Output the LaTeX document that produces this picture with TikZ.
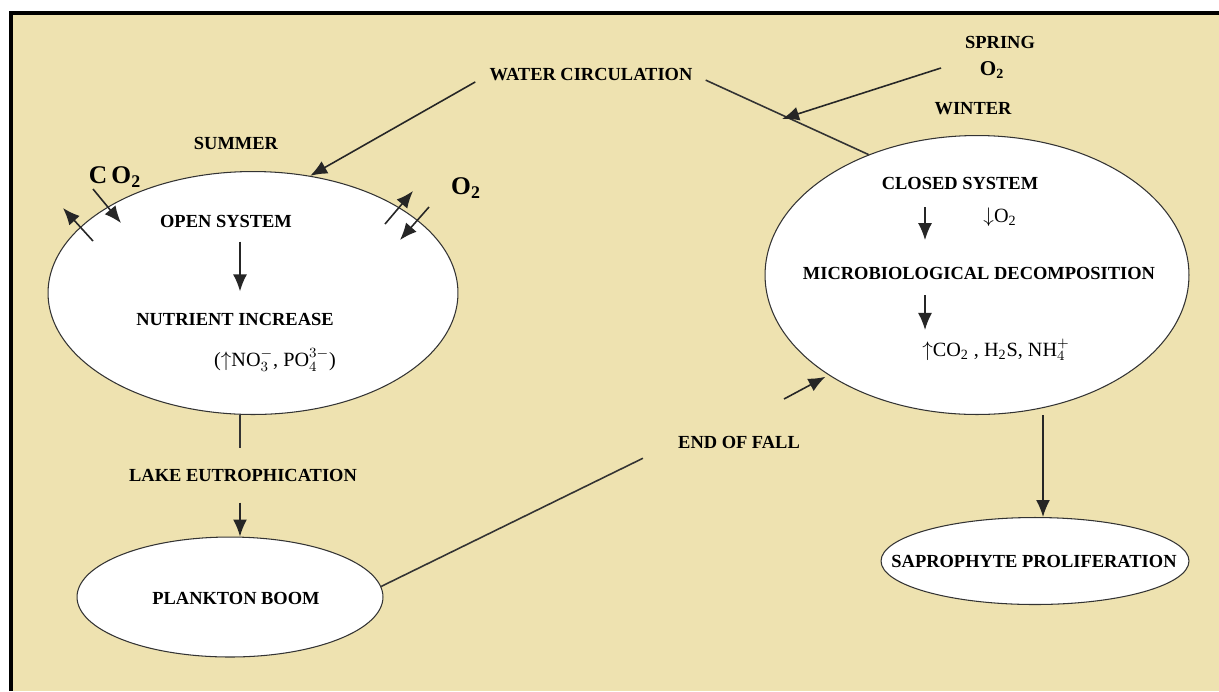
\documentclass[tikz,border=0pt]{standalone}
\usepackage{fontspec}
\setmainfont{Liberation Serif}
\usetikzlibrary{arrows.meta,shapes.geometric,positioning}
\definecolor{lakebg}{RGB}{238,226,176}

\tikzset{
  blob/.style={ellipse, draw=black!80, fill=white, line width=0.6pt, inner sep=0pt},
  lbl/.style={font=\fontsize{10.5}{12}\selectfont\bfseries, inner sep=1pt},
  gas/.style={font=\fontsize{14.5}{16}\selectfont\bfseries, inner sep=1pt},
  chem/.style={font=\fontsize{11.5}{13}\selectfont, inner sep=1pt},
  arr/.style={-{Latex[length=3.4mm,width=2.8mm]}, line width=0.9pt, black!85},
  link/.style={line width=0.9pt, black!80}
}

\begin{document}
\begin{tikzpicture}[x=0.02cm,y=-0.02cm]
\useasboundingbox (0,0) rectangle (1219,691);
\fill[lakebg] (10,12) rectangle (1219,691);
\draw[line width=2.5pt] (11,691) -- (11,13) -- (1219,13);

% ellipses
\node[blob, minimum width=8.2cm, minimum height=4.86cm] (openell) at (253,293) {};
\node[blob, minimum width=8.48cm, minimum height=5.58cm] (closedell) at (977,275) {};
\node[blob, minimum width=6.12cm, minimum height=2.4cm] (plankton) at (230,597) {};
\node[blob, minimum width=6.16cm, minimum height=1.74cm] (sapro) at (1035,561) {};

% labels
\node[lbl] (planktxt) at (236,598) {PLANKTON BOOM};
\node[lbl] (saprotxt) at (1034,561) {SAPROPHYTE PROLIFERATION};
\node[lbl] (water) at (591,75) {WATER CIRCULATION};
\node[lbl] (spring) at (1000,42) {SPRING};
\node[lbl, font=\fontsize{12}{13}\selectfont\bfseries] (springox) at (992,70) {O\textsubscript{2}};
\node[lbl] (winter) at (973,109) {WINTER};
\node[lbl] (summer) at (236,143) {SUMMER};
\node[gas] (co2) at (115,177) {C\,O\textsubscript{2}};
\node[gas] (o2) at (466,188) {O\textsubscript{2}};
\node[lbl] (opensys) at (226,221) {OPEN SYSTEM};
\node[lbl] (nutrient) at (235,319) {NUTRIENT INCREASE};
\node[chem] (nutions) at (275,360) {($\uparrow$NO$_{3}^{-}$, PO$_{4}^{3-}$)};
\node[lbl] (eutro) at (243,475) {LAKE EUTROPHICATION};
\node[lbl] (endfall) at (739,442) {END OF FALL};
\node[lbl] (closed) at (960,183) {CLOSED SYSTEM};
\node[chem] (closedox) at (1000,217) {$\downarrow$O\textsubscript{2}};
\node[lbl] (micro) at (979,273) {MICROBIOLOGICAL DECOMPOSITION};
\node[chem] (gases) at (996,350) {$\uparrow$CO\textsubscript{2} , H\textsubscript{2}S, NH$_{4}^{+}$};

% helper coordinates
\coordinate (lx) at (240,0);
\coordinate (rx) at (925,0);
\coordinate (sx) at (1043,0);
\coordinate (springtail) at (941,68);
\coordinate (meet) at (782,119);
\coordinate (falltail) at (784,399);

% water circulation
\draw[arr, shorten <=8pt] (water.west) -- (openell.64);
\draw[link, shorten <=7pt] (water.east) -- (closedell.132);
\draw[arr] (springtail) -- (meet);

% gas exchange across the open surface
\draw[arr] (93,189) -- (121,223);
\draw[arr] (93,241) -- (63,208);
\draw[arr] (385,224) -- (413,191);
\draw[arr] (429,207) -- (400,240);

% summer chain
\draw[arr, shorten <=7pt, shorten >=11pt] (opensys.south -| lx) -- (nutrient.north -| lx);
\draw[link] (openell.south -| lx) -- ++(0,33);
\draw[arr, shorten <=11pt] (eutro.south -| lx) -- (plankton.north -| lx);

% end of fall
\draw[link, shorten >=21pt] (plankton.4) -- (endfall.west);
\draw[arr, shorten >=2pt] (falltail) -- (closedell.214);

% winter chain
\draw[arr, shorten <=9pt, shorten >=14pt] (closed.south -| rx) -- (micro.north -| rx);
\draw[arr, shorten <=8pt, shorten >=4pt] (micro.south -| rx) -- (gases.north -| rx);
\draw[arr] (closedell.south -| sx) -- (sapro.north -| sx);
\end{tikzpicture}
\end{document}
